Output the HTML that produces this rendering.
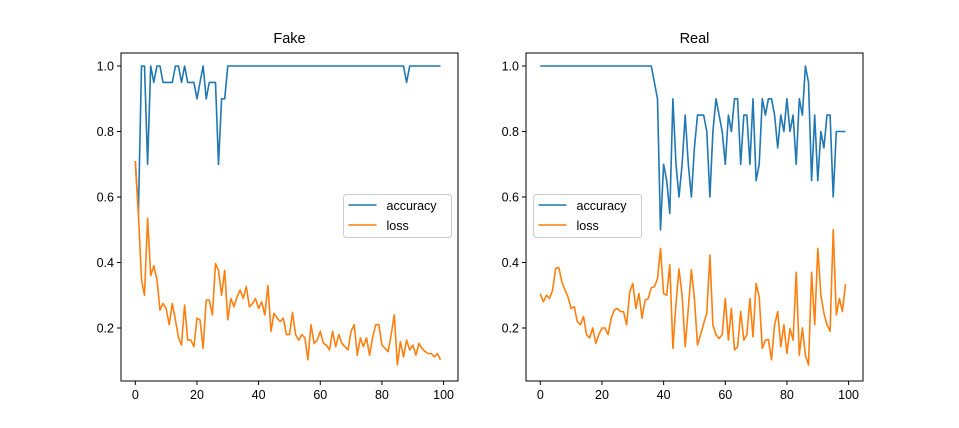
<!DOCTYPE html><html><head><style>body{margin:0;background:#fff}svg{display:block;font-family:"Liberation Sans","DejaVu Sans",sans-serif}</style></head><body>
<svg id="s" width="959" height="428" xmlns="http://www.w3.org/2000/svg"></svg>
<script>
var fa=[0.71,0.55,1,1,0.7,1,0.95,1,1,0.95,0.95,0.95,0.95,1,1,0.95,1,0.95,0.95,0.95,0.9,0.95,1,0.9,0.95,0.95,0.95,0.7,0.9,0.9];
while(fa.length<100)fa.push(1);fa[88]=0.95;
var fl=[0.71,0.55,0.347,0.30,0.535,0.36,0.39,0.35,0.255,0.275,0.26,0.21,0.275,0.225,0.17,0.148,0.27,0.163,0.163,0.143,0.23,0.225,0.138,0.285,0.285,0.24,0.397,0.376,0.30,0.376,0.225,0.29,0.265,0.295,0.316,0.29,0.326,0.265,0.275,0.29,0.26,0.28,0.24,0.33,0.19,0.245,0.23,0.22,0.23,0.18,0.18,0.247,0.18,0.163,0.18,0.17,0.103,0.21,0.153,0.163,0.19,0.153,0.148,0.133,0.19,0.143,0.18,0.153,0.143,0.133,0.19,0.21,0.117,0.17,0.143,0.17,0.117,0.173,0.21,0.21,0.148,0.138,0.128,0.18,0.24,0.087,0.158,0.112,0.163,0.133,0.148,0.117,0.153,0.138,0.128,0.122,0.122,0.112,0.122,0.103];
var ra=[];for(var i=0;i<37;i++)ra.push(1);
ra=ra.concat([0.95,0.9,0.5,0.7,0.65,0.55,0.9,0.7,0.6,0.7,0.85,0.7,0.6,0.75,0.85,0.85,0.85,0.8,0.6,0.8,0.9,0.85,0.8,0.7,0.85,0.8,0.9,0.9,0.7,0.85,0.85,0.7,0.9,0.65,0.7,0.9,0.85,0.9,0.9,0.85,0.75,0.85,0.8,0.9,0.8,0.85,0.7,0.9,0.85,1,0.95,0.65,0.85,0.65,0.8,0.75,0.85,0.85,0.6,0.8,0.8,0.8,0.8]);
var rl=[0.305,0.28,0.30,0.29,0.316,0.382,0.385,0.34,0.316,0.295,0.26,0.265,0.22,0.21,0.235,0.18,0.17,0.2,0.153,0.18,0.2,0.2,0.18,0.23,0.255,0.26,0.25,0.25,0.21,0.31,0.336,0.26,0.305,0.23,0.285,0.29,0.323,0.326,0.35,0.443,0.305,0.3,0.394,0.138,0.275,0.38,0.3,0.143,0.26,0.378,0.29,0.148,0.18,0.214,0.245,0.423,0.21,0.18,0.168,0.18,0.29,0.163,0.26,0.133,0.143,0.25,0.163,0.18,0.29,0.173,0.336,0.295,0.138,0.163,0.165,0.103,0.21,0.25,0.143,0.21,0.122,0.198,0.163,0.37,0.117,0.2,0.117,0.087,0.37,0.21,0.443,0.3,0.245,0.21,0.19,0.5,0.24,0.29,0.25,0.334];
var h='';
function Y(v){return 66+(1-v)*327.5}
function panel(L,R,title,a,l,lx){
 var x0=L+14.3,k=3.083;
 h+='<rect x="'+L+'" y="53" width="'+(R-L)+'" height="328" fill="none" stroke="#000" stroke-width="1"/>';
 h+='<text x="'+((L+R)/2)+'" y="43" font-size="14.5" text-anchor="middle">'+title+'</text>';
 [0.2,0.4,0.6,0.8,1.0].forEach(function(v){var y=Y(v);h+='<line x1="'+(L-4)+'" x2="'+L+'" y1="'+y+'" y2="'+y+'" stroke="#000"/><text x="'+(L-7)+'" y="'+(y+4.5)+'" font-size="12.5" text-anchor="end">'+v.toFixed(1)+'</text>'});
 [0,20,40,60,80,100].forEach(function(v){var x=x0+v*k;h+='<line x1="'+x+'" x2="'+x+'" y1="381" y2="385" stroke="#000"/><text x="'+x+'" y="399" font-size="12.5" text-anchor="middle">'+v+'</text>'});
 function pl(d,c){var p=d.map(function(v,i){return (x0+i*k).toFixed(1)+','+Y(v).toFixed(1)}).join(' ');h+='<polyline points="'+p+'" fill="none" stroke="'+c+'" stroke-width="1.6" stroke-linejoin="round"/>'}
 pl(a,'#1f77b4');pl(l,'#ff7f0e');
 h+='<rect x="'+lx+'" y="194.5" width="108" height="43" rx="3" fill="#fff" fill-opacity="0.8" stroke="#ccc"/>';
 h+='<line x1="'+(lx+5)+'" x2="'+(lx+33)+'" y1="205" y2="205" stroke="#1f77b4" stroke-width="1.6"/><text x="'+(lx+43)+'" y="210" font-size="12.5">accuracy</text>';
 h+='<line x1="'+(lx+5)+'" x2="'+(lx+33)+'" y1="225" y2="225" stroke="#ff7f0e" stroke-width="1.6"/><text x="'+(lx+43)+'" y="230" font-size="12.5">loss</text>';
}
panel(121,458,'Fake',fa,fl,343.5);
panel(526,863,'Real',ra,rl,533.5);
document.getElementById('s').innerHTML=h;
</script></body></html>
